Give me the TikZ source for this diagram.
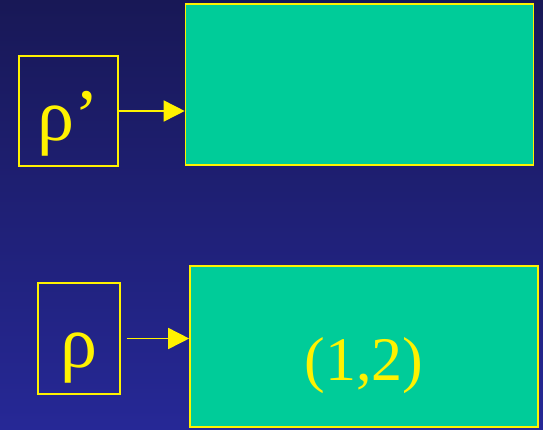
\documentclass[tikz,border=0pt]{standalone}
\usepackage{fontspec}
\setmainfont{Liberation Serif}
\usetikzlibrary{arrows.meta}

\definecolor{slidetop}{RGB}{24,24,86}
\definecolor{slidebottom}{RGB}{38,40,150}
\definecolor{slideteal}{HTML}{00CC99}

\begin{document}
\begin{tikzpicture}[x=1pt, y=-1pt,
	greekbox/.style={draw=yellow, line width=1.6pt, inner sep=0pt, text=yellow,
		text height=58pt, text depth=0pt, font=\fontsize{74}{74}\selectfont},
	tealbox/.style={draw=yellow, fill=slideteal, line width=1.6pt, inner sep=0pt, text=yellow,
		minimum width=348pt, minimum height=161pt, text height=67pt, text depth=0pt,
		font=\fontsize{62}{62}\selectfont},
	link/.style={yellow, line width=1.6pt, -{Triangle[length=21pt, width=21pt]}}]
	\shade [top color=slidetop, bottom color=slidebottom] (0,0) rectangle (543,429);

	\node [greekbox, minimum width=99pt, minimum height=110pt] (rhoprime) at (68.5,111) {ρ’};
	\node [tealbox] (upper) at (359.5,84.5) {};

	\node [greekbox, minimum width=82pt, minimum height=111pt] (rho) at (78.75,338.5) {ρ};
	\node [tealbox] (lower) at (364,346.5) {(1,2)};

	\draw [link] (rhoprime.east) -- (rhoprime.east -| upper.west);
	\draw [link, shorten <=6pt] (rho.east) -- (rho.east -| lower.west);
\end{tikzpicture}
\end{document}
